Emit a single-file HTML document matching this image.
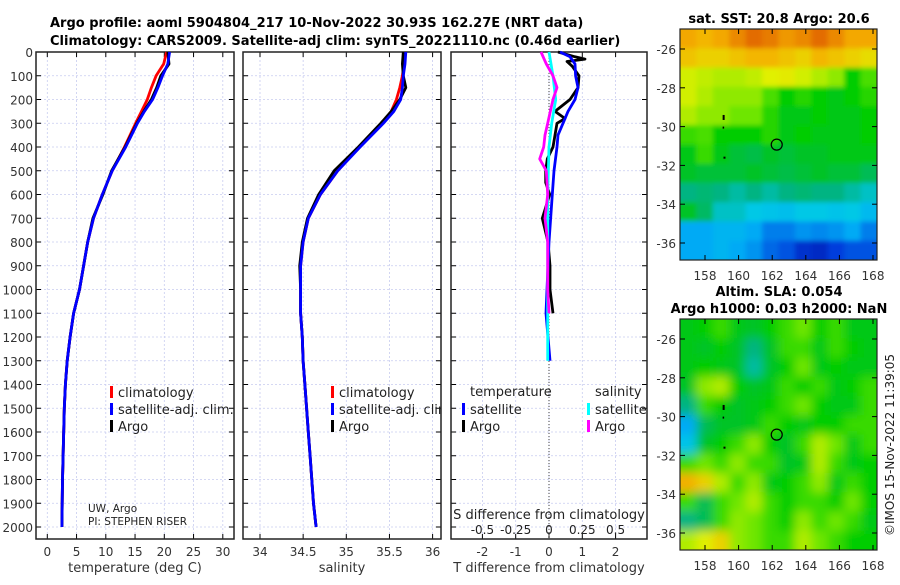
<!DOCTYPE html>
<html><head><meta charset="utf-8"><style>
html,body{margin:0;padding:0;background:#fff;}
svg text{font-family:"DejaVu Sans","Liberation Sans",sans-serif;}
</style></head><body>
<svg id="fig" width="900" height="580" viewBox="0 0 900 580" xmlns="http://www.w3.org/2000/svg">
<defs>
<filter id="blur" x="-10%" y="-10%" width="120%" height="120%"><feGaussianBlur stdDeviation="5"/></filter>
<filter id="blur2" x="-10%" y="-10%" width="120%" height="120%"><feGaussianBlur stdDeviation="2.5"/></filter>
<clipPath id="c1"><rect x="680" y="29" width="197" height="231"/></clipPath>
<clipPath id="c2"><rect x="680" y="319" width="197" height="231"/></clipPath>
<clipPath id="p2clip"><rect x="243" y="52" width="198" height="487"/></clipPath>
</defs>
<text x="50" y="27" font-size="13" font-weight="bold">Argo profile: aoml 5904804_217 10-Nov-2022 30.93S 162.27E (NRT data)</text>
<text x="50" y="45" font-size="13" font-weight="bold">Climatology: CARS2009. Satellite-adj clim: synTS_20221110.nc (0.46d earlier)</text>
<g id="root"></g>
</svg>
<script>
// ---- depth profile data ----
const depths = [0,50,100,150,200,250,300,400,500,600,700,800,900,1000,1100,1200,1300,1400,1500,1600,1700,1800,1900,2000];
const tempClim = [20.4,19.9,18.6,17.8,17.1,16.1,15.1,13.2,11.1,9.4,7.9,6.9,6.2,5.5,4.5,3.9,3.4,3.1,2.9,2.8,2.7,2.6,2.55,2.5];
const tempSat  = [20.9,20.6,19.7,18.9,18.0,16.6,15.4,13.4,11.1,9.4,7.9,6.9,6.2,5.5,4.5,3.9,3.4,3.1,2.9,2.8,2.7,2.6,2.55,2.5];
const tempArgo = [20.6,20.8,19.4,18.7,17.8,16.5,15.3,13.3,11.0,9.5,7.8,6.9,6.2,5.5,4.5,3.9,3.4,3.1,2.9,2.8,2.7,2.6,2.55,2.5];
const salClim  = [35.68,35.67,35.65,35.62,35.58,35.52,35.42,35.15,34.90,34.70,34.56,34.50,34.47,34.47,34.47,34.49,34.50,34.52,34.54,34.56,34.58,34.60,34.62,34.65];
const salSat   = [35.69,35.68,35.66,35.65,35.63,35.55,35.43,35.16,34.90,34.70,34.56,34.50,34.47,34.47,34.47,34.49,34.50,34.52,34.54,34.56,34.58,34.60,34.62,34.65];
const salArgo  = [35.66,35.65,35.66,35.69,35.62,35.52,35.40,35.14,34.86,34.68,34.55,34.49,34.46,34.47,34.47,34.49,34.50,34.52,34.54,34.56,34.58,34.60,34.62,34.65];
// ---- difference data ----
const diffDepthT = [0,20,30,40,60,100,150,200,250,280,300,350,400,450,500,550,600,700,800,900,1000,1100];
const tDiffArgo  = [0.27,0.78,1.08,0.54,0.70,0.90,0.87,0.63,0.18,0.48,0.24,0.18,0.12,-0.05,-0.10,-0.10,0.02,-0.20,-0.03,0.03,0.03,0.12];
const diffDepthTS = [0,20,50,100,150,200,250,300,350,400,500,600,800,1000,1100,1300];
const tDiffSat   = [0.33,0.63,0.78,0.80,0.87,0.78,0.57,0.42,0.27,0.24,0.15,0.10,0.0,-0.06,-0.09,0.03];
const diffDepthS = [0,50,100,150,200,250,300,350,400,450,500,600,700,800,1000,1100];
const sDiffArgo  = [-0.06,-0.02,0.03,0.06,0.03,0.01,-0.01,-0.03,-0.04,-0.07,-0.02,-0.01,-0.03,-0.01,-0.01,0.0];
const diffDepthSS = [0,100,200,300,400,600,1000,1300];
const sDiffSat   = [0.0,0.03,0.05,0.02,0.0,-0.01,-0.01,-0.01];
// ---- tick labels ----
const depthTicks = [0,100,200,300,400,500,600,700,800,900,1000,1100,1200,1300,1400,1500,1600,1700,1800,1900,2000];
const tempTicks = [0,5,10,15,20,25,30];
const salTicks = [34,34.5,35,35.5,36];
const tdTicks = [-2,-1,0,1,2];
const sdTicks = [-0.5,-0.25,0,0.25,0.5];
const sdTickLabels = ["-0.5","-0.25","0","0.25","0.5"];
const lonTicks = [158,160,162,164,166,168];
const latTicks = [-26,-28,-30,-32,-34,-36];
// ---- map grids (colormap index 0..1) ----
const sstGrid = [
[.76,.74,.76,.80,.84,.82,.78,.80,.84,.80,.76,.76],
[.72,.70,.70,.72,.74,.74,.72,.70,.74,.72,.70,.68],
[.64,.63,.62,.62,.63,.65,.66,.64,.62,.60,.52,.56],
[.64,.62,.60,.60,.60,.56,.52,.54,.52,.50,.52,.54],
[.62,.60,.60,.58,.58,.54,.50,.50,.52,.50,.50,.52],
[.55,.56,.52,.52,.52,.54,.50,.52,.50,.50,.50,.52],
[.50,.55,.50,.47,.46,.48,.47,.48,.48,.50,.50,.50],
[.48,.47,.47,.47,.48,.47,.46,.47,.48,.47,.47,.45],
[.42,.43,.42,.40,.42,.40,.42,.43,.42,.42,.40,.38],
[.48,.44,.38,.38,.36,.35,.34,.36,.36,.35,.36,.33],
[.30,.30,.32,.32,.30,.26,.26,.28,.27,.28,.30,.26],
[.30,.30,.32,.30,.28,.24,.22,.16,.14,.20,.22,.22]];
const slaGrid = [
[.50,.52,.55,.50,.48,.52,.55,.58,.52,.55,.50,.50],
[.50,.48,.52,.48,.42,.48,.55,.55,.50,.55,.52,.50],
[.50,.52,.50,.48,.40,.48,.52,.58,.50,.52,.50,.50],
[.48,.60,.62,.52,.48,.50,.55,.52,.55,.50,.52,.55],
[.42,.55,.52,.48,.50,.52,.55,.58,.52,.50,.50,.55],
[.30,.45,.48,.48,.50,.55,.52,.50,.52,.52,.55,.55],
[.35,.48,.52,.55,.60,.52,.48,.55,.62,.58,.50,.55],
[.55,.58,.55,.60,.55,.55,.48,.50,.62,.55,.50,.52],
[.75,.70,.62,.55,.60,.50,.52,.55,.60,.50,.55,.52],
[.55,.45,.55,.58,.62,.55,.52,.55,.55,.52,.58,.52],
[.42,.45,.55,.60,.58,.55,.52,.60,.55,.58,.55,.50],
[.62,.65,.70,.60,.58,.55,.55,.62,.58,.55,.52,.52]];
const profLon = 162.27, profLat = -30.93;

const NS = "http://www.w3.org/2000/svg";
const root = document.getElementById('root');
function mk(tag, attrs, parent){ const e=document.createElementNS(NS,tag); for(const k in attrs) e.setAttribute(k,attrs[k]); (parent||root).appendChild(e); return e; }
function txt(s, attrs, parent){ const e=mk('text',attrs,parent); e.textContent=s; return e; }

const yTop=52, yPer=0.2375, frameBot=539;
const yD = d => yTop + d*yPer;
const cmapStops = [[0,[0,0,140]],[0.2,[0,60,220]],[0.3,[0,170,245]],[0.36,[0,200,230]],[0.42,[0,180,130]],[0.48,[0,195,40]],[0.52,[0,205,0]],[0.58,[110,230,0]],[0.65,[225,240,0]],[0.75,[245,175,0]],[0.85,[225,100,0]],[1,[180,0,0]]];
function cmap(v){
  v=Math.max(0,Math.min(1,v));
  for(let i=1;i<cmapStops.length;i++){
    const [a,ca]=cmapStops[i-1],[b,cb]=cmapStops[i];
    if(v<=b){ const f=(v-a)/(b-a); return `rgb(${ca.map((c,k)=>Math.round(c+(cb[k]-c)*f)).join(',')})`; }
  }
  return 'rgb(180,0,0)';
}

function panel(name, x0, x1, xf, ticks, labels, xtitle){
  const g = mk('g',{});
  
  
  ticks.forEach(t=>{ mk('line',{x1:xf(t),x2:xf(t),y1:yTop,y2:frameBot,stroke:'#c8ccf0','stroke-width':0.8,'stroke-dasharray':'2,2'},g); });
  depthTicks.forEach(d=>{ mk('line',{x1:x0,x2:x1,y1:yD(d),y2:yD(d),stroke:'#c8ccf0','stroke-width':0.8,'stroke-dasharray':'2,2'},g);
    mk('line',{x1:x0,x2:x0+5,y1:yD(d),y2:yD(d),stroke:'#000'},g); mk('line',{x1:x1-5,x2:x1,y1:yD(d),y2:yD(d),stroke:'#000'},g); });
  ticks.forEach((t,i)=>{ mk('line',{x1:xf(t),x2:xf(t),y1:frameBot,y2:frameBot-5,stroke:'#000'},g); mk('line',{x1:xf(t),x2:xf(t),y1:yTop,y2:yTop+5,stroke:'#000'},g);
    if(labels) { const l=txt(labels[i],{x:xf(t),y:556,'font-size':12,'text-anchor':'middle',fill:'#333'},g);   } });
  mk('rect',{x:x0,y:yTop,width:x1-x0,height:frameBot-yTop,fill:'none',stroke:'#222','stroke-width':1.5},g);
  if(xtitle){ const t=txt(xtitle,{x:(x0+x1)/2,y:572,'font-size':13,'text-anchor':'middle',fill:'#333'},g);   }
  return g;
}
function line(g,name,xs,ds,xf,color,w){
  const p = xs.map((v,i)=>`${xf(v).toFixed(1)},${yD(ds[i]).toFixed(1)}`).join(' ');
  const e=mk('polyline',{points:p,fill:'none',stroke:color,'stroke-width':w||2.8,'stroke-linejoin':'round'},g);
  
  
}
function legend(g,items,x,y){
  items.forEach((it,i)=>{ mk('rect',{x:x,y:y+i*17-6,width:3,height:12,fill:it[1]},g);
    const t=txt(it[0],{x:x+8,y:y+i*17+5,'font-size':13,fill:'#222'},g);
      });
}

depthTicks.forEach(d=>{ const t=txt(String(d),{x:33,y:yD(d)+5,'font-size':12,'text-anchor':'end',fill:'#333'});
    });

// Panel 1: temperature
const xT = v => 47.3 + v*5.85;
const g1 = panel('temperature-panel',36,234,xT,tempTicks,tempTicks.map(String),'temperature (deg C)');
line(g1,'temp-climatology-line',tempClim,depths,xT,'#f00');
line(g1,'temp-argo-line',tempArgo,depths,xT,'#000');
line(g1,'temp-satellite-line',tempSat,depths,xT,'#00f');
legend(g1,[['climatology','#f00'],['satellite-adj. clim.','#00f'],['Argo','#000']],110,392);
txt('UW, Argo',{x:88,y:512,'font-size':10.5,fill:'#222'},g1);
txt('PI: STEPHEN RISER',{x:88,y:525,'font-size':10.5,fill:'#222'},g1);

// Panel 2: salinity
const xS = v => 260 + (v-34)*86.3;
const g2 = panel('salinity-panel',243,441,xS,salTicks,salTicks.map(String),'salinity');
line(g2,'sal-climatology-line',salClim,depths,xS,'#f00');
line(g2,'sal-argo-line',salArgo,depths,xS,'#000');
line(g2,'sal-satellite-line',salSat,depths,xS,'#00f');
const g2l = mk('g',{'clip-path':'url(#p2clip)'},g2);
legend(g2l,[['climatology','#f00'],['satellite-adj. clim.','#00f'],['Argo','#000']],331,392);

// Panel 3: differences
const xTD = v => 549 + v*33.3;
const xSD = v => 549 + v*4*33.3;
const g3 = panel('difference-panel',451,647,xTD,tdTicks,tdTicks.map(String),'T difference from climatology');
mk('line',{x1:549,x2:549,y1:yTop,y2:frameBot,stroke:'#444','stroke-width':1,'stroke-dasharray':'1,2'},g3);
line(g3,'tdiff-argo-line',tDiffArgo,diffDepthT,xTD,'#000');
line(g3,'tdiff-satellite-line',tDiffSat,diffDepthTS,xTD,'#00f');
line(g3,'sdiff-satellite-line',sDiffSat,diffDepthSS,xSD,'#0ff');
line(g3,'sdiff-argo-line',sDiffArgo,diffDepthS,xSD,'#f0f');
txt('temperature',{x:470,y:396,'font-size':13,fill:'#222'},g3);
txt('salinity',{x:595,y:396,'font-size':13,fill:'#222'},g3);
legend(g3,[['satellite','#00f'],['Argo','#000']],462,409);
legend(g3,[['satellite','#0ff'],['Argo','#f0f']],587,409);
txt('S difference from climatology',{x:549,y:519,'font-size':13,'text-anchor':'middle',fill:'#222'},g3);
sdTicks.forEach((t,i)=>{ const l=txt(sdTickLabels[i],{x:xSD(t),y:534,'font-size':12,'text-anchor':'middle',fill:'#222'},g3);
    });

// Maps
const lonX = v => 705 + (v-158)*16.8;
function map(name, grid, top, clip, title1, title2){
  const g = mk('g',{});
  
  
  const latY = v => top + 20 + (-26 - v)*19.4;
  const cells = mk('g',{'clip-path':`url(#${clip})`},g);
  const inner = mk('g',{filter: name==='sst-map'?'url(#blur2)':'url(#blur)'},cells);
  const rows=grid.length, cols=grid[0].length, cw=197/cols, ch=231/rows;
  grid.forEach((row,r)=>row.forEach((v,c)=>{
    const e=mk('rect',{x:680+c*cw-(c===0?10:0),y:top+r*ch-(r===0?10:0),width:cw+1+(c===0||c===cols-1?10:0),height:ch+1+(r===0||r===rows-1?10:0),fill:cmap(v)},inner);
     
  }));
  mk('rect',{x:680,y:top,width:197,height:231,fill:'none',stroke:'#222','stroke-width':1.2},g);
  lonTicks.forEach(l=>{ mk('line',{x1:lonX(l),x2:lonX(l),y1:top+231,y2:top+226,stroke:'#000'},g); mk('line',{x1:lonX(l),x2:lonX(l),y1:top,y2:top+5,stroke:'#000'},g);
    const t=txt(String(l),{x:lonX(l),y:top+251,'font-size':12,'text-anchor':'middle',fill:'#333'},g);   });
  latTicks.forEach(l=>{ mk('line',{x1:680,x2:685,y1:latY(l),y2:latY(l),stroke:'#000'},g); mk('line',{x1:877,x2:872,y1:latY(l),y2:latY(l),stroke:'#000'},g);
    const t=txt(String(l),{x:676,y:latY(l)+5,'font-size':12,'text-anchor':'end',fill:'#333'},g);   });
  const c=mk('circle',{cx:lonX(profLon),cy:latY(profLat),r:5.5,fill:'none',stroke:'#000','stroke-width':1.2},g);
   
  mk('rect',{x:lonX(159.05),y:latY(-29.4),width:2,height:5,fill:'#000'},g);
  mk('rect',{x:lonX(159.05),y:latY(-30.0),width:1.5,height:2,fill:'#000'},g);
  mk('rect',{x:lonX(159.1),y:latY(-31.55),width:2,height:2,fill:'#000'},g);
  txt(title1,{x:779,y:title2?296:23,'font-size':13,'font-weight':'bold','text-anchor':'middle'},g);
  if(title2) txt(title2,{x:779,y:313,'font-size':13,'font-weight':'bold','text-anchor':'middle'},g);
}
map('sst-map', sstGrid, 29, 'c1', 'sat. SST: 20.8 Argo: 20.6');
map('sla-map', slaGrid, 319, 'c2', 'Altim. SLA: 0.054', 'Argo h1000: 0.03 h2000: NaN');
const cr=txt('©IMOS 15-Nov-2022 11:39:05',{x:0,y:0,'font-size':12,'text-anchor':'middle',fill:'#222',transform:'translate(894,445) rotate(-90)'});
 
</script>
</body></html>
